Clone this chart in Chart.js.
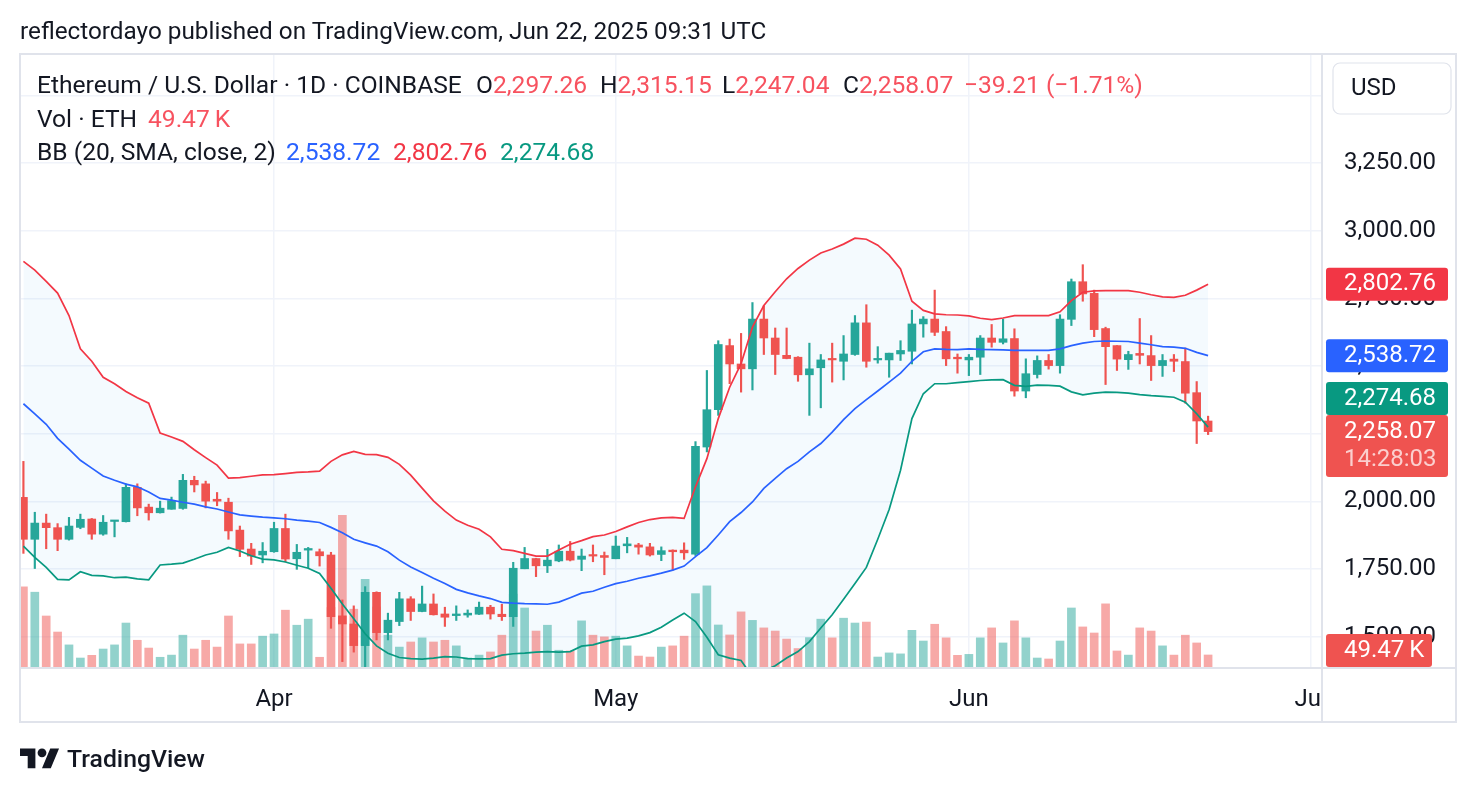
<!DOCTYPE html>
<html>
<head>
<meta charset="utf-8">
<script src="https://cdn.jsdelivr.net/npm/chart.js@4.4.1/dist/chart.umd.min.js"></script>
<style>
  html, body { margin:0; padding:0; background:#fff; }
  #wrap { position:relative; width:1476px; height:794px; overflow:hidden; background:#fff; }
  #c { position:absolute; left:0; top:0; }
  .t { position:absolute; white-space:nowrap; color:#131722; }
</style>
</head>
<body>
<div id="wrap">
  <canvas id="c" width="1476" height="794"></canvas>
  <div id="title" class="t">reflectordayo published on TradingView.com, Jun 22, 2025 09:31 UTC</div>
  <div id="leg"></div>
  <svg id="logo" style="position:absolute;left:20px;top:743.6px" width="39.6" height="30.8" viewBox="0 0 36 28"><path fill="#131722" d="M14 22H7V11H0V4h14v18zM28 22h-8l7.5-18h8L28 22z"/><circle fill="#131722" cx="20" cy="8" r="4"/></svg>
  <div id="brand" class="t">TradingView</div>
</div>
<script>
// ---------------- DATA (daily candles, ETH/USD Coinbase, from 2025-03-10) ----------------
const startDate = '2025-03-10';
const opens = [2015,1860,1920,1903,1860,1904,1935,1879,1926,1925,
  2052,1979,1958,1971,1974,2078,2065,2008,1997,1894,
  1824,1802,1814,1900,1788,1820,1814,1802,1577,1547,
  1467,1664,1515,1556,1640,1593,1621,1584,1578,1580,
  1583,1609,1583,1574,1751,1789,1762,1780,1816,1786,
  1802,1800,1788,1836,1839,1832,1804,1820,1820,1805,
  2201,2339,2576,2508,2490,2674,2604,2540,2533,2468,
  2494,2527,2518,2543,2660,2523,2523,2545,2555,2656,
  2674,2628,2533,2523,2533,2604,2588,2602,2408,2469,
  2521,2502,2673,2812,2769,2639,2576,2524,2547,2539,
  2502,2526,2517,2402,2297.26];
const highs = [2148,1960,1953,1918,1941,1953,1937,1948,1930,2065,
  2065,1990,2001,2016,2100,2093,2075,2033,2012,1909,
  1845,1848,1923,1953,1841,1830,1824,1812,1636,1614,
  1685,1666,1587,1664,1648,1687,1658,1609,1614,1599,
  1628,1616,1620,1775,1830,1790,1823,1839,1852,1824,
  1839,1813,1872,1867,1845,1845,1832,1821,1847,2221,
  2484,2594,2600,2621,2735,2723,2641,2641,2535,2585,
  2543,2585,2613,2687,2727,2572,2548,2594,2707,2683,
  2781,2646,2545,2543,2613,2654,2674,2638,2527,2538,
  2543,2690,2822,2875,2781,2644,2576,2555,2676,2613,
  2543,2543,2567,2443,2315.15];
const lows = [1808,1752,1825,1818,1857,1899,1860,1875,1869,1924,
  1947,1931,1957,1971,1971,2035,1976,1984,1860,1796,
  1767,1773,1812,1777,1749,1755,1761,1531,1408,1443,
  1384,1488,1488,1541,1560,1592,1580,1538,1560,1572,
  1582,1565,1560,1538,1751,1722,1737,1777,1780,1744,
  1777,1729,1788,1810,1805,1798,1781,1746,1786,1800,
  2183,2318,2435,2404,2412,2543,2469,2527,2444,2318,
  2346,2441,2449,2540,2496,2511,2459,2521,2508,2607,
  2613,2502,2474,2465,2469,2570,2582,2389,2383,2456,
  2489,2474,2650,2740,2609,2432,2484,2488,2508,2447,
  2462,2480,2363,2214,2247.04];
const closes = [1860,1920,1903,1860,1909,1934,1879,1923,1929,2052,
  1976,1958,1975,2003,2078,2061,2001,2001,1891,1823,
  1798,1816,1900,1787,1812,1826,1799,1574,1547,1467,
  1664,1515,1561,1640,1593,1621,1581,1572,1584,1587,
  1609,1584,1574,1753,1789,1762,1783,1816,1783,1798,
  1798,1793,1835,1843,1831,1802,1818,1814,1810,2204,
  2339,2580,2508,2490,2674,2604,2543,2528,2468,2490,
  2523,2523,2545,2660,2518,2528,2548,2558,2656,2674,
  2625,2527,2527,2533,2604,2588,2601,2408,2472,2521,
  2502,2674,2812,2767,2635,2572,2526,2543,2540,2502,
  2521,2518,2400,2297.28,2258.07];
// volume in thousands of ETH
const volumes = [330,308,210,144,91,37,48,74,91,181,
  110,78,40,49,131,74,110,82,210,95,
  95,127,136,234,172,197,40,245,625,238,
  361,247,131,82,103,120,103,110,87,37,
  49,62,131,300,243,148,172,69,66,190,
  131,124,127,87,45,41,82,87,127,302,
  334,173,132,227,192,161,148,115,76,121,
  197,120,201,181,185,41,58,54,151,107,
  176,120,48,52,120,161,99,190,120,37,
  33,107,243,165,140,260,66,49,161,148,
  87,49,131,99,49.47];
// Bollinger Bands (20, SMA, close, 2)
const bbUpper = [2887,2855,2813,2770,2687,2564,2518,2459,2435,2406,
  2383,2363,2253,2238,2222,2191,2162,2134,2086,2088,
  2093,2098,2099,2103,2107,2109,2112,2148,2172,2185,
  2174,2173,2163,2137,2097,2049,2002,1964,1931,1912,
  1897,1869,1823,1818,1808,1798,1798,1820,1842,1855,
  1870,1876,1889,1906,1922,1933,1939,1941,1937,2054,
  2158,2306,2422,2509,2644,2724,2775,2823,2861,2892,
  2918,2933,2951,2973,2969,2947,2910,2859,2740,2706,
  2693,2690,2689,2686,2677,2672,2678,2687,2687,2687,
  2687,2701,2742,2773,2778,2779,2779,2779,2773,2764,
  2756,2754,2762,2781,2802.76];
const bbBasis = [2361,2324,2285,2233,2193,2152,2123,2094,2078,2064,
  2054,2035,2011,2005,1997,1990,1980,1972,1961,1950,
  1946,1942,1939,1936,1931,1927,1922,1904,1884,1860,
  1847,1835,1814,1783,1758,1737,1716,1697,1675,1662,
  1651,1641,1627,1624,1622,1621,1620,1628,1644,1661,
  1668,1683,1696,1705,1716,1725,1735,1746,1761,1796,
  1829,1876,1925,1959,1998,2048,2085,2121,2148,2183,
  2214,2256,2302,2343,2376,2408,2441,2474,2518,2553,
  2564,2562,2561,2564,2562,2561,2560,2558,2558,2558,
  2558,2564,2576,2585,2591,2593,2592,2591,2585,2579,
  2572,2570,2566,2551,2538.72];
const bbLower = [1835,1793,1756,1712,1710,1740,1727,1725,1718,1720,
  1714,1710,1765,1768,1772,1786,1802,1812,1830,1817,
  1799,1787,1784,1776,1764,1753,1734,1679,1621,1566,
  1511,1466,1439,1423,1419,1417,1421,1426,1425,1419,
  1418,1419,1432,1437,1439,1443,1445,1443,1445,1465,
  1470,1482,1491,1495,1503,1515,1535,1562,1587,1556,
  1498,1433,1421,1412,1352,1372,1393,1421,1445,1482,
  1532,1581,1638,1697,1756,1860,1970,2115,2306,2398,
  2435,2435,2439,2443,2447,2449,2450,2429,2425,2430,
  2429,2426,2405,2394,2400,2404,2403,2400,2395,2391,
  2388,2385,2367,2324,2274.68];
const xTickDates = ['2025-04-01','2025-05-01','2025-06-01','2025-07-01'];
const xTickLabels = ['Apr','May','Jun','Jul'];
const yTickValues = [1500,1750,2000,2250,2500,2750,3000,3250,3500];
const countdown = '14:28:03';
const currency = 'USD';

// ---------------- STYLE ----------------
const FAMILY = 'Roboto';
const DARK = '#131722';
const GREEN = '#26a69a', RED = '#ef5350';
const TXT_RED = '#f7525f';
const C_UP = '#f23645', C_MID = '#2962ff', C_LOW = '#089981';
function fit(text, width, weight) {
  const m = document.createElement('canvas').getContext('2d');
  m.font = (weight || 400) + ' 100px ' + FAMILY;
  return 100 * width / m.measureText(text).width;
}
const fmt2 = v => v.toLocaleString('en-US', {minimumFractionDigits:2, maximumFractionDigits:2});
const N = closes.length;
const last = N - 1;

const axisSize = fit('3,250.00', 92);
const legendSize = fit('Ethereum / U.S. Dollar · 1D · COINBASE', 425);
const titleEl = document.getElementById('title');
const titleSize = fit(titleEl.textContent, 747);
titleEl.style.font = `400 ${titleSize}px ${FAMILY}`;
titleEl.style.lineHeight = '30px';
titleEl.style.left = '20px'; titleEl.style.top = '16px';
const brand = document.getElementById('brand');
const brandSize = fit('TradingView', 138, 500);
brand.style.font = `500 ${brandSize}px ${FAMILY}`;
brand.style.lineHeight = '32px';
brand.style.left = '67px'; brand.style.top = '743px';

// ---------------- LEGEND ----------------
const chg = closes[last] - closes[last - 1];
const pct = chg / closes[last - 1] * 100;
const sgn = v => (v < 0 ? '\u2212' : '+') + Math.abs(v).toFixed(2);
const volTxt = volumes[last].toFixed(2) + '\u2009K';
const legendRows = [
  {cy:85, groups:[
    {x:37, parts:[['Ethereum / U.S. Dollar · 1D · COINBASE', DARK]]},
    {x:476, parts:[['O', DARK], [fmt2(opens[last]), TXT_RED]]},
    {x:600, parts:[['H', DARK], [fmt2(highs[last]), TXT_RED]]},
    {x:722, parts:[['L', DARK], [fmt2(lows[last]), TXT_RED]]},
    {x:843, parts:[['C', DARK], [fmt2(closes[last]), TXT_RED]]},
    {x:964, parts:[[sgn(chg) + ' (' + sgn(pct) + '%)', TXT_RED]]}]},
  {cy:119, groups:[
    {x:37, parts:[['Vol · ETH', DARK]]},
    {x:148, parts:[[volTxt, TXT_RED]]}]},
  {cy:152, groups:[
    {x:37, parts:[['BB (20, SMA, close, 2)', DARK]]},
    {x:286, parts:[[fmt2(bbBasis[last]), C_MID]]},
    {x:393, parts:[[fmt2(bbUpper[last]), C_UP]]},
    {x:500, parts:[[fmt2(bbLower[last]), C_LOW]]}]}
];
const leg = document.getElementById('leg');
legendRows.forEach(r => r.groups.forEach(g => {
  const d = document.createElement('div');
  d.className = 't';
  d.style.font = `400 ${legendSize}px ${FAMILY}`;
  d.style.lineHeight = '30px';
  d.style.left = g.x + 'px';
  d.style.top = (r.cy - 15) + 'px';
  g.parts.forEach(p => { const s = document.createElement('span'); s.textContent = p[0]; s.style.color = p[1]; d.appendChild(s); });
  leg.appendChild(d);
}));

// ---------------- CHART ----------------
const dayMs = 86400000;
const t0 = Date.parse(startDate + 'T00:00:00Z');
const xTickIdx = xTickDates.map(d => Math.round((Date.parse(d + 'T00:00:00Z') - t0) / dayMs));
const candleCol = opens.map((o, i) => closes[i] >= o ? GREEN : RED);
const volCol = opens.map((o, i) => closes[i] >= o ? 'rgba(38,166,154,0.5)' : 'rgba(239,83,80,0.5)');
const pts = arr => arr.map((v, i) => ({x:i, y:v}));
const axisFont = {family: FAMILY, size: axisSize};

const overlay = {
  id: 'overlay',
  afterDraw(chart) {
    const {ctx, chartArea:a} = chart;
    const y = chart.scales.y, yv = chart.scales.yv;
    const R = a.right + chart.scales.y.width, B = a.bottom + chart.scales.x.height;
    ctx.save();
    // empty corner cell under price axis (clips the last time label)
    ctx.fillStyle = '#fff';
    ctx.fillRect(a.right + 1, a.bottom + 1, R - a.right - 1, B - a.bottom - 1);
    // frame
    ctx.strokeStyle = '#e0e3eb'; ctx.lineWidth = 2;
    ctx.strokeRect(a.left, a.top - 1, R - a.left, B - a.top + 1);
    ctx.beginPath();
    ctx.moveTo(a.right, a.top - 1); ctx.lineTo(a.right, B);
    ctx.moveTo(a.left, a.bottom + 1); ctx.lineTo(R, a.bottom + 1);
    ctx.stroke();
    // currency box
    ctx.fillStyle = '#fff'; ctx.strokeStyle = '#e0e3eb'; ctx.lineWidth = 1.2;
    ctx.beginPath(); ctx.roundRect(a.right + 11, a.top + 8, 118, 51, 7); ctx.fill(); ctx.stroke();
    ctx.fillStyle = DARK; ctx.font = `400 ${axisSize}px ${FAMILY}`;
    ctx.textBaseline = 'middle'; ctx.textAlign = 'left';
    ctx.fillText(currency, a.right + 29, a.top + 34);
    // price labels
    const bx = a.right + 4, bw = 122, h = 33;
    const label = (top, hh, bg, lines, w) => {
      ctx.fillStyle = bg;
      ctx.beginPath(); ctx.roundRect(bx, top, w || bw, hh, 3); ctx.fill();
      lines.forEach((l, k) => {
        ctx.fillStyle = l[1];
        ctx.fillText(l[0], a.right + 22, top + h / 2 + k * 28);
      });
    };
    const pU = y.getPixelForValue(bbUpper[last]);
    const pM = y.getPixelForValue(bbBasis[last]);
    const pL = y.getPixelForValue(bbLower[last]);
    const pC = y.getPixelForValue(closes[last]);
    const closeTop = pC - h / 2;
    let lowTop = pL - h / 2;
    if (lowTop + h > closeTop) lowTop = closeTop - h;
    label(pU - h / 2, h, C_UP, [[fmt2(bbUpper[last]), '#fff']]);
    label(pM - h / 2, h, C_MID, [[fmt2(bbBasis[last]), '#fff']]);
    label(lowTop, h, C_LOW, [[fmt2(bbLower[last]), '#fff']]);
    label(closeTop, 62, RED, [[fmt2(closes[last]), '#fff'], [countdown, 'rgba(255,255,255,0.72)']]);
    let vTop = yv.getPixelForValue(volumes[last]) - h / 2;
    if (vTop + h > a.bottom) vTop = a.bottom - h;
    label(vTop, h, RED, [[volTxt, '#fff']], 106);
    ctx.restore();
  }
};

new Chart(document.getElementById('c'), {
  data: {
    datasets: [
      {type:'line', data:pts(bbUpper), borderColor:C_UP, borderWidth:1.7, pointRadius:0, tension:0,
        fill:2, backgroundColor:'rgba(33,150,243,0.05)', order:1},
      {type:'line', data:pts(bbBasis), borderColor:C_MID, borderWidth:1.7, pointRadius:0, tension:0, fill:false, order:1},
      {type:'line', data:pts(bbLower), borderColor:C_LOW, borderWidth:1.7, pointRadius:0, tension:0, fill:false, order:1},
      {type:'bar', yAxisID:'yv', data:pts(volumes), backgroundColor:volCol, barThickness:8, grouped:false, order:6},
      {type:'bar', data:lows.map((l, i) => ({x:i, y:[l, highs[i]]})), backgroundColor:candleCol, barThickness:1.5, grouped:false, order:4},
      {type:'bar', data:opens.map((o, i) => ({x:i, y:[o, closes[i]]})), backgroundColor:candleCol, barThickness:8, minBarLength:1.5, grouped:false, order:3}
    ]
  },
  options: {
    responsive:false, animation:false, events:[],
    layout:{padding:{left:20, top:55, right:20, bottom:72}},
    plugins:{legend:{display:false}, tooltip:{enabled:false}, filler:{drawTime:'beforeDatasetsDraw'}},
    scales:{
      x:{type:'linear', min:-0.3, max:114, offset:false,
        grid:{color:'#f0f3fa', lineWidth:1.5, drawTicks:false, offset:false},
        border:{display:false},
        afterBuildTicks:s => { s.ticks = xTickIdx.map(v => ({value:v})); },
        afterFit:s => { s.height = 55; },
        ticks:{autoSkip:false, maxRotation:0, padding:18.5, color:DARK, font:axisFont,
          callback:v => xTickLabels[xTickIdx.indexOf(v)]}},
      y:{position:'right', min:1388, max:3650,
        grid:{color:'#f0f3fa', lineWidth:1.5, drawTicks:false},
        border:{display:false},
        afterBuildTicks:s => { s.ticks = yTickValues.map(v => ({value:v})); },
        afterFit:s => { s.width = 134; },
        ticks:{padding:22, color:DARK, font:axisFont, callback:v => fmt2(v)}},
      yv:{display:false, min:0, max:2520}
    }
  },
  plugins:[overlay]
});
</script>
</body>
</html>
